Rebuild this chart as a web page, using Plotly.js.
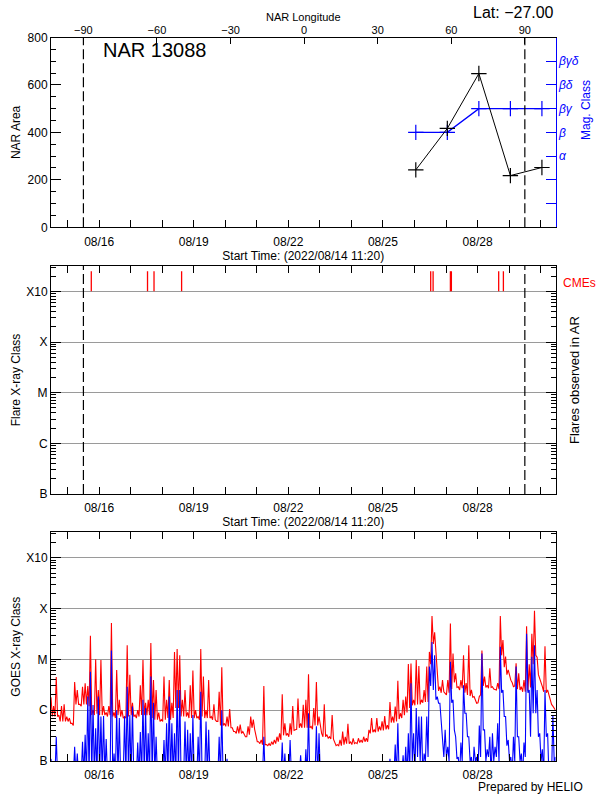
<!DOCTYPE html>
<html><head><meta charset="utf-8">
<script src="https://cdn.plot.ly/plotly-3.0.1.min.js"></script>
<style>html,body{margin:0;padding:0;background:#fff}#chart{width:600px;height:800px}</style>
</head><body><div id="chart"></div>
<script>
// ---- time axis ----
const startTime = '2022-08-14 11:20';
const endTime = '2022-08-30 11:20';
const dayTicks = ['2022-08-15','2022-08-16','2022-08-17','2022-08-18','2022-08-19','2022-08-20','2022-08-21','2022-08-22',
  '2022-08-23','2022-08-24','2022-08-25','2022-08-26','2022-08-27','2022-08-28','2022-08-29','2022-08-30'];
const dayTickLabels = ['','08/16','','','08/19','','','08/22','','','08/25','','','08/28','',''];
const limbTimes = ['2022-08-15 12:00', '2022-08-29 12:00'];   // longitude -90 / +90

// ---- NAR longitude (top axis) ----
const lonRange = [-103.2, 102.5];
const lonTicks = [-90, -60, -30, 0, 30, 60, 90];

// ---- NAR 13088 area and magnetic class ----
const narTimes = ['2022-08-26 01:00', '2022-08-27 01:00', '2022-08-28 01:00', '2022-08-29 01:00', '2022-08-30 01:00'];
const narArea = [242, 417, 648, 218, 252];
const magClassIndex = [4, 4, 5, 5, 5];
const magClassTicks = [1, 2, 3, 4, 5, 6, 7];
const magClassLabels = ['', '', 'α', 'β', 'βγ', 'βδ', 'βγδ'];

// ---- CMEs ----
const cmeTimes = ['2022-08-15 18:00', '2022-08-17 12:48', '2022-08-17 17:45', '2022-08-18 14:45',
  '2022-08-26 12:20', '2022-08-26 14:10', '2022-08-27 03:20', '2022-08-27 04:05',
  '2022-08-28 16:05', '2022-08-28 19:40'];
const cmeBase = 1e-3, cmeTop = 2.5e-3;

// ---- flare class axis ----
const flareClassTicks = [1e-7, 1e-6, 1e-5, 1e-4, 1e-3];
const flareClassLabels = ['B', 'C', 'M', 'X', 'X10'];

// ---- GOES X-ray flux, units of 1e-6 W/m^2 (C1 = 1), one bin every 2 h from startTime ----
// *C  = level read at the start of each bin, *FloorC = lower edge of the band read 1 h later
const goesStepHours = 2;
const goesLongC = [
  1.8,1.2,4.5,0.8,1.2,1.3,0.75,0.7,0.55,3.6,
  2.5,1.3,2.9,3.4,3.0,29,1.0,10,2.5,9.7,
  1.2,0.9,1.2,52,0.9,6.2,1.6,1.0,0.75,19,
  5,1.4,0.8,1.0,3.1,9.7,1.4,1.6,21,3.9,
  2.5,0.9,0.65,4.6,1.6,3.9,1.4,14,16,12,
  1.6,2.5,0.9,3.1,6,1.0,0.75,16,4.6,1.0,
  3.9,0.75,1.3,0.6,2.3,7,0.55,0.75,1.05,0.45,
  0.38,0.48,0.52,0.38,0.3,0.48,0.75,0.65,0.3,0.24,
  0.26,3.0,0.21,0.22,0.24,0.26,0.3,0.35,2.05,0.55,
  0.35,0.55,1.2,0.41,1.7,0.55,1.27,1.6,5.1,0.48,
  1.1,3.6,0.75,0.35,1.3,0.33,0.3,0.8,0.23,0.21,
  0.26,0.38,0.3,0.54,0.24,0.28,0.23,0.28,0.26,0.3,
  0.28,0.41,0.7,0.41,0.7,0.48,0.6,0.77,0.51,1.45,
  0.75,1.18,3.8,0.87,1.6,1.85,8.1,8.3,1.6,9.7,
  7.4,1.6,2.5,7.2,14,71,34,5.3,2.9,3.9,
  2.15,3.9,51,13,5.3,2.9,3.9,12,3.4,19,
  2.5,1.85,1.37,1.85,15,4.6,3.1,6.7,2.9,2.5,
  3.4,71,24,11.3,6.2,3.9,2.9,8.4,5.3,2.9,
  3.9,45,8,32,90,11,4.3,2.9,18,2.5,
  1.6,1.2,1.0
];
const goesLongFloorC = [
  0.75,0.75,0.75,0.6,0.6,0.6,0.6,0.55,0.5,1.3,
  1.3,1.2,1.3,1.3,1.2,0.8,0.8,0.85,0.8,0.8,
  0.8,0.75,0.8,0.75,0.7,0.8,0.75,0.7,0.7,0.75,
  0.8,0.75,0.7,0.75,0.8,0.8,0.8,0.8,0.7,0.65,
  0.65,0.6,0.6,0.65,0.7,0.65,0.7,1.1,1.1,0.75,
  0.75,0.75,0.7,0.7,0.7,0.7,0.65,0.75,0.7,0.7,
  0.7,0.65,0.65,0.6,0.5,0.5,0.48,0.48,0.45,0.38,
  0.35,0.35,0.35,0.33,0.3,0.33,0.45,0.42,0.24,0.22,
  0.21,0.21,0.2,0.2,0.21,0.22,0.24,0.26,0.32,0.32,
  0.3,0.33,0.4,0.42,0.45,0.45,0.45,0.45,0.45,0.42,
  0.5,0.5,0.45,0.3,0.3,0.28,0.27,0.27,0.2,0.2,
  0.2,0.21,0.22,0.22,0.21,0.22,0.22,0.23,0.23,0.24,
  0.24,0.35,0.37,0.37,0.38,0.4,0.4,0.42,0.42,0.57,
  0.57,0.6,0.67,0.7,0.8,0.9,1.1,1.25,1.25,1.3,
  1.3,1.4,1.45,1.45,8,20,12,2.4,2.2,2.3,
  2.0,2.2,2.6,3.5,2.8,2.5,2.7,2.2,2.0,1.9,
  1.8,1.6,1.4,2.0,3.0,2.8,2.7,2.8,2.6,2.5,
  2.6,12,7,5,4.5,3.5,3.0,2.6,2.5,2.3,
  2.3,2.4,2.8,8,12,5,3.5,2.3,2.2,2.0,
  1.3,1.1,1.0
];
const goesShortC = [
  0.11,0.05,0.3,0.05,0.05,0.05,0.05,0.05,0.05,0.19,
  0.14,0.05,0.24,0.33,1.85,5.7,1.27,0.44,1.85,0.75,
  0.77,0.27,0.05,15,0.14,1.0,0.7,0.05,0.75,2.9,
  0.8,1.18,0.05,0.23,0.37,1.6,1.1,0.35,4.6,1.4,
  0.3,0.05,0.05,0.26,0.55,1.85,0.55,0.35,2.5,2.5,
  0.05,0.6,0.41,0.35,0.8,0.05,0.3,2.3,0.05,0.6,
  0.41,0.05,0.05,0.05,0.3,1.0,0.05,0.11,0.05,0.05,
  0.05,0.05,0.05,0.05,0.05,0.05,0.05,0.05,0.05,0.05,
  0.05,0.3,0.05,0.05,0.05,0.05,0.05,0.05,0.23,0.14,
  0.05,0.26,0.05,0.05,0.05,0.13,0.05,0.17,0.87,0.05,
  0.05,0.48,0.35,0.05,0.05,0.05,0.05,0.05,0.05,0.05,
  0.05,0.05,0.05,0.05,0.05,0.05,0.05,0.05,0.05,0.05,
  0.05,0.05,0.05,0.05,0.05,0.05,0.05,0.05,0.05,0.11,
  0.05,0.21,0.55,0.05,0.13,0.19,0.35,3.4,0.35,1.1,
  0.75,0.75,0.14,0.75,7.2,22,12,1.85,1.37,0.19,
  0.41,0.19,9,1.6,0.3,0.12,0.23,3.1,0.87,0.3,
  0.12,0.19,0.12,0.5,13,0.41,0.17,0.3,0.35,0.19,
  0.55,17.7,2.5,0.75,0.26,0.12,0.3,7.2,0.3,0.14,
  0.23,32,2.5,11.3,19,2.5,0.35,0.17,2.5,0.35,
  0.05,0.8,0.12
];
const goesShortFloorC = [
  0.05,0.05,0.05,0.05,0.05,0.05,0.05,0.05,0.05,0.05,
  0.05,0.05,0.05,0.05,0.05,0.05,0.05,0.05,0.05,0.05,
  0.05,0.05,0.05,0.05,0.05,0.05,0.05,0.05,0.05,0.05,
  0.05,0.05,0.05,0.05,0.05,0.05,0.05,0.05,0.05,0.05,
  0.05,0.05,0.05,0.05,0.05,0.05,0.05,0.05,0.05,0.05,
  0.05,0.05,0.05,0.05,0.05,0.05,0.05,0.05,0.05,0.05,
  0.05,0.05,0.05,0.05,0.05,0.05,0.05,0.05,0.05,0.05,
  0.05,0.05,0.05,0.05,0.05,0.05,0.05,0.05,0.05,0.05,
  0.05,0.05,0.05,0.05,0.05,0.05,0.05,0.05,0.05,0.05,
  0.05,0.05,0.05,0.05,0.05,0.05,0.05,0.05,0.05,0.05,
  0.05,0.05,0.05,0.05,0.05,0.05,0.05,0.05,0.05,0.05,
  0.05,0.05,0.05,0.05,0.05,0.05,0.05,0.05,0.05,0.05,
  0.05,0.05,0.05,0.05,0.05,0.05,0.05,0.05,0.05,0.05,
  0.05,0.05,0.05,0.05,0.05,0.05,0.05,0.1,0.05,0.12,
  0.1,0.05,0.1,0.12,3,2.5,1.6,1.37,0.55,0.12,
  0.12,0.1,1.4,0.41,0.11,0.05,0.1,0.87,0.3,0.1,
  0.05,0.1,0.05,0.12,0.41,0.1,0.12,0.05,0.1,0.12,
  0.1,2.2,0.75,0.2,0.1,0.05,0.1,0.3,0.1,0.05,
  0.12,2.2,0.3,0.87,0.87,0.3,0.1,0.05,0.3,0.05,
  0.05,0.1,0.05
];

// ---- build ----
function fmt(ms) { return new Date(ms).toISOString().replace('T', ' ').slice(0, 19); }
const t0 = Date.UTC(2022, 7, 14, 11, 20);
const HOUR = 3600000;
function goesSeries(levels, floors) {
  const x = [], y = [];
  levels.forEach((v, i) => {
    const tb = t0 + i * goesStepHours * HOUR;
    x.push(fmt(tb)); y.push(v * 1e-6);
    x.push(fmt(tb + goesStepHours * HOUR / 2)); y.push(floors[i] * 1e-6);
  });
  return { x, y };
}
const goesLong = goesSeries(goesLongC, goesLongFloorC);
const goesShort = goesSeries(goesShortC, goesShortFloorC);

const cmeX = [], cmeY = [];
cmeTimes.forEach(t => { cmeX.push(t, t, null); cmeY.push(cmeBase, cmeTop, null); });

// minor tick positions
const logMinor = [];
for (let e = -7; e <= -3; e++) for (let m = 2; m <= 9; m++) { const v = m * Math.pow(10, e); if (v <= 3.2e-3) logMinor.push(v); }
const areaMinor = [];
for (let v = 50; v < 800; v += 50) if (v % 200) areaMinor.push(v);
const lonMinor = [];
for (let v = -97.5; v <= 100; v += 7.5) if (Math.abs(v % 30) > 0.01) lonMinor.push(v);

const FONT = 'Liberation Sans, Arial, sans-serif';
const xDom = [51 / 600, 555.5 / 600];
const py = p => 1 - p / 800;

function timeAxis(anchor, mirror, title) {
  return {
    type: 'date', domain: xDom, anchor: anchor, range: [startTime, endTime],
    tickmode: 'array', tickvals: dayTicks, ticktext: dayTickLabels,
    ticks: 'inside', ticklen: 7, tickcolor: 'black', tickwidth: 1,
    showline: true, linecolor: 'black', linewidth: 1, mirror: mirror,
    showgrid: false, zeroline: false, tickfont: { size: 12 }, ticklabelstandoff: 3,
    title: title ? { text: title, font: { size: 12 }, standoff: 2 } : { text: '' }
  };
}
function classAxis(domain, anchor, title) {
  return {
    type: 'log', domain: domain, anchor: anchor, range: [-7, -2.5],
    tickmode: 'array', tickvals: flareClassTicks, ticktext: flareClassLabels,
    ticks: 'inside', ticklen: 10, tickcolor: 'black', tickwidth: 1,
    showline: true, linecolor: 'black', linewidth: 1, mirror: 'ticks',
    showgrid: true, gridcolor: '#9a9a9a', gridwidth: 1, zeroline: false,
    tickfont: { size: 12 },
    title: { text: title, font: { size: 12 }, standoff: 3 }
  };
}
function minorAxis(type, over, anchor, side, range, vals, len, mirror) {
  return {
    type: type, overlaying: over, anchor: anchor, side: side, range: range,
    tickmode: 'array', tickvals: vals, showticklabels: false,
    ticks: 'inside', ticklen: len, tickcolor: 'black', tickwidth: 1,
    showline: false, mirror: mirror, showgrid: false, zeroline: false
  };
}

const traces = [
  { x: [], y: [], xaxis: 'x', yaxis: 'y', mode: 'markers' },
  { x: narTimes, y: narArea, xaxis: 'x', yaxis: 'y7', mode: 'lines+markers',
    line: { color: 'black', width: 1 },
    marker: { symbol: 'cross-thin', size: 11, line: { color: 'black', width: 1.2 } } },
  { x: narTimes, y: magClassIndex, xaxis: 'x', yaxis: 'y2', mode: 'lines+markers',
    line: { color: 'blue', width: 1.4 },
    marker: { symbol: 'cross-thin', size: 11, line: { color: 'blue', width: 1.2 } } },
  { x: [], y: [], xaxis: 'x2', yaxis: 'y', mode: 'markers' },
  { x: [], y: [], xaxis: 'x3', yaxis: 'y3', mode: 'markers' },
  { x: cmeX, y: cmeY, xaxis: 'x3', yaxis: 'y5', mode: 'lines', line: { color: 'red', width: 1.3 }, connectgaps: false },
  { x: [], y: [], xaxis: 'x4', yaxis: 'y4', mode: 'markers' },
  { x: goesLong.x, y: goesLong.y, xaxis: 'x4', yaxis: 'y6', mode: 'lines',
    line: { color: 'red', width: 1.1 } },
  { x: goesShort.x, y: goesShort.y, xaxis: 'x4', yaxis: 'y6', mode: 'lines',
    line: { color: 'blue', width: 1.1 } }
];

const shapes = [];
limbTimes.forEach(t => {
  ['x', 'x3'].forEach((xr, k) => {
    shapes.push({ type: 'line', xref: xr, yref: (k === 0 ? 'y' : 'y3') + ' domain', x0: t, x1: t, y0: 0, y1: 1,
      line: { color: 'black', width: 1.2, dash: '10px,4px' } });
  });
});

const layout = {
  width: 600, height: 800, margin: { l: 0, r: 0, t: 0, b: 0 },
  paper_bgcolor: 'white', plot_bgcolor: 'white', showlegend: false,
  font: { family: FONT, size: 12, color: 'black' },
  xaxis: timeAxis('y', false, 'Start Time: (2022/08/14 11:20)'),
  xaxis2: {
    overlaying: 'x', side: 'top', anchor: 'y', range: lonRange,
    tickmode: 'array', tickvals: lonTicks, ticks: 'inside', ticklen: 6, tickcolor: 'black',
    showline: true, linecolor: 'black', showgrid: false, zeroline: false,
    tickfont: { size: 11 }, ticklabelstandoff: -2,
    title: { text: 'NAR Longitude', font: { size: 11 }, standoff: 0 }
  },
  yaxis: {
    domain: [py(227.3), py(37.5)], anchor: 'x', range: [0, 800], tick0: 0, dtick: 200,
    ticks: 'inside', ticklen: 10, tickcolor: 'black', tickwidth: 1,
    showline: true, linecolor: 'black', showgrid: false, zeroline: false,
    tickfont: { size: 12 }, title: { text: 'NAR Area', font: { size: 12 }, standoff: 4 }
  },
  yaxis7: minorAxis('linear', 'y', 'x', 'left', [0, 800], areaMinor, 5, false),
  yaxis2: {
    overlaying: 'y', side: 'right', anchor: 'x', range: [0, 8],
    tickmode: 'array', tickvals: magClassTicks, ticktext: magClassLabels,
    ticks: 'inside', ticklen: 10, tickcolor: 'blue',
    showline: true, linecolor: 'blue', showgrid: false, zeroline: false,
    tickfont: { size: 12, color: 'blue', style: 'italic' }
  },
  xaxis3: timeAxis('y3', 'ticks', 'Start Time: (2022/08/14 11:20)'),
  yaxis3: classAxis([py(494), py(266)], 'x3', 'Flare X-ray Class'),
  yaxis5: minorAxis('log', 'y3', 'x3', 'left', [-7, -2.5], logMinor, 5, 'ticks'),
  xaxis4: timeAxis('y4', 'ticks', ''),
  yaxis4: classAxis([py(761), py(532.3)], 'x4', 'GOES X-ray Class'),
  yaxis6: minorAxis('log', 'y4', 'x4', 'left', [-7, -2.5], logMinor, 5, 'ticks'),
  shapes: shapes,
  annotations: [
    { text: 'NAR 13088', xref: 'paper', yref: 'paper', x: 101 / 600, y: py(50), xanchor: 'left', yanchor: 'middle',
      showarrow: false, font: { size: 20 } },
    { text: 'Lat: −27.00', xref: 'paper', yref: 'paper', x: 556 / 600, y: py(13), xanchor: 'right', yanchor: 'middle',
      showarrow: false, font: { size: 16 } },
    { text: 'Mag. Class', xref: 'paper', yref: 'paper', x: 586 / 600, y: py(110), xanchor: 'center', yanchor: 'middle',
      textangle: -90, showarrow: false, font: { size: 12, color: 'blue' } },
    { text: 'CMEs', xref: 'paper', yref: 'paper', x: 561 / 600, y: py(283), xanchor: 'left', yanchor: 'middle',
      showarrow: false, font: { size: 12, color: 'red' } },
    { text: 'Flares observed in AR', xref: 'paper', yref: 'paper', x: 574 / 600, y: py(380), xanchor: 'center', yanchor: 'middle',
      textangle: -90, showarrow: false, font: { size: 13 } },
    { text: 'Prepared by HELIO', xref: 'paper', yref: 'paper', x: 585 / 600, y: py(787), xanchor: 'right', yanchor: 'middle',
      showarrow: false, font: { size: 12 } }
  ]
};

Plotly.newPlot('chart', traces, layout, { displayModeBar: false, staticPlot: true });
</script>
</body></html>
